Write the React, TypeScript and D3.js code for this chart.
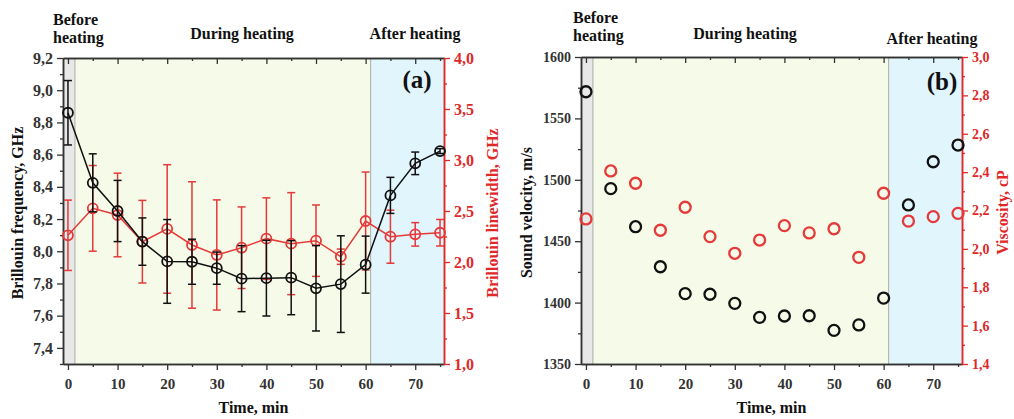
import React, { useEffect, useRef } from "react";
import * as d3 from "d3";

// time points, min
const times = [0, 5, 10, 15, 20, 25, 30, 35, 40, 45, 50, 55, 60, 65, 70, 75];

// panel (a): Brillouin frequency (GHz) and linewidth (GHz) with errors
const frequency = [8.86, 8.425, 8.25, 8.06, 7.937, 7.935, 7.895, 7.83, 7.833, 7.836, 7.77, 7.796, 7.917, 8.347, 8.546, 8.622];
const frequencyErr = [0.2, 0.18, 0.19, 0.147, 0.26, 0.14, 0.1, 0.205, 0.235, 0.23, 0.265, 0.3, 0.177, 0.112, 0.07, 0.015];
const linewidth = [2.262, 2.526, 2.461, 2.199, 2.324, 2.167, 2.069, 2.14, 2.229, 2.18, 2.209, 2.052, 2.402, 2.248, 2.271, 2.287];
const linewidthErr = [0.345, 0.42, 0.41, 0.405, 0.63, 0.62, 0.54, 0.4, 0.4, 0.5, 0.35, 0.075, 0.48, 0.26, 0.115, 0.13];

// panel (b): sound velocity (m/s) and viscosity (cP)
const velocity = [1571.7, 1492.8, 1461.8, 1429.2, 1407.3, 1406.8, 1399.4, 1388, 1389.1, 1389.3, 1377.4, 1381.8, 1403.7, 1479.5, 1514.7, 1528.3];
const viscosity = [2.156, 2.406, 2.342, 2.097, 2.217, 2.064, 1.977, 2.046, 2.121, 2.083, 2.105, 1.956, 2.29, 2.145, 2.168, 2.185];

// heating phases (min)
const phaseEdges = [1.4, 61];
const phaseNames = ["Before heating", "During heating", "After heating"];

const xDomain = [-1, 75.8];
const xTicks = [0, 10, 20, 30, 40, 50, 60, 70];
const xMinor = [5, 15, 25, 35, 45, 55, 65, 75];

const freqTicks = [7.4, 7.6, 7.8, 8.0, 8.2, 8.4, 8.6, 8.8, 9.0, 9.2];
const freqMinor = [7.3, 7.5, 7.7, 7.9, 8.1, 8.3, 8.5, 8.7, 8.9, 9.1];
const lwTicks = [1.0, 1.5, 2.0, 2.5, 3.0, 3.5, 4.0];
const lwMinor = [1.25, 1.75, 2.25, 2.75, 3.25, 3.75];
const velTicks = [1350, 1400, 1450, 1500, 1550, 1600];
const velMinor = [1375, 1425, 1475, 1525, 1575];
const viscTicks = [1.4, 1.6, 1.8, 2.0, 2.2, 2.4, 2.6, 2.8, 3.0];
const viscMinor = [1.5, 1.7, 1.9, 2.1, 2.3, 2.5, 2.7, 2.9];

const FONT = '"Liberation Serif", "Times New Roman", serif';
const RED = "#e53a3a";
const RED_AXIS = "#e02828";
const AXIS = "#333";
const PHASE_FILLS = ["#e8e8e8", "#f5fbe8", "#e1f5fd"];

const comma = (digits) => (d) => d3.format(`.${digits}f`)(d).replace(".", ",");

function Panel(props) {
  const ref = useRef(null);
  const {
    left, right, top, bottom, yDomL, yDomR, ticksL, minorL, ticksR, minorR,
    fmtL, fmtR, black, blackErr, red, redErr, connect, r, yFont,
    titleL, titleR, titleLx, titleRx, letter, letterX, letterY, headers,
  } = props;

  useEffect(() => {
    const g = d3.select(ref.current);
    g.selectAll("*").remove();

    const x = d3.scaleLinear().domain(xDomain).range([left, right]);
    const yL = d3.scaleLinear().domain(yDomL).range([bottom, top]);
    const yR = d3.scaleLinear().domain(yDomR).range([bottom, top]);

    // phase backgrounds
    const edges = [xDomain[0], ...phaseEdges, xDomain[1]];
    g.selectAll(".phase")
      .data(PHASE_FILLS)
      .join("rect")
      .attr("class", "phase")
      .attr("x", (d, i) => x(edges[i]))
      .attr("y", top)
      .attr("width", (d, i) => x(edges[i + 1]) - x(edges[i]))
      .attr("height", bottom - top)
      .attr("fill", (d) => d);
    g.selectAll(".edge")
      .data(phaseEdges)
      .join("line")
      .attr("class", "edge")
      .attr("x1", (d) => x(d)).attr("x2", (d) => x(d))
      .attr("y1", top).attr("y2", bottom)
      .attr("stroke", "#b4b8b4").attr("stroke-width", 1.2);

    const styleAxis = (sel, color, size) => {
      sel.attr("font-family", FONT).attr("font-size", size).attr("font-weight", "bold");
      sel.select(".domain").attr("stroke", color).attr("stroke-width", 1.5);
      sel.selectAll(".tick line").attr("stroke", color).attr("stroke-width", 1.3);
      sel.selectAll(".tick text").attr("fill", color);
    };

    // axes
    const bx = g.append("g").attr("transform", `translate(0,${bottom})`)
      .call(d3.axisBottom(x).tickValues(xTicks).tickSize(6).tickSizeOuter(0).tickPadding(5).tickFormat(d3.format("d")));
    styleAxis(bx, AXIS, 15);
    bx.selectAll(".tick text").attr("dy", "0.95em");
    const bxm = g.append("g").attr("transform", `translate(0,${bottom})`)
      .call(d3.axisBottom(x).tickValues(xMinor).tickSize(3).tickSizeOuter(0).tickFormat(() => ""));
    styleAxis(bxm, AXIS, 15);
    const tx = g.append("g").attr("transform", `translate(0,${top})`)
      .call(d3.axisTop(x).tickValues(xTicks).tickSize(-6).tickSizeOuter(0).tickFormat(() => ""));
    styleAxis(tx, AXIS, 15);
    const txm = g.append("g").attr("transform", `translate(0,${top})`)
      .call(d3.axisTop(x).tickValues(xMinor).tickSize(-3).tickSizeOuter(0).tickFormat(() => ""));
    styleAxis(txm, AXIS, 15);

    const ly = g.append("g").attr("transform", `translate(${left},0)`)
      .call(d3.axisLeft(yL).tickValues(ticksL).tickSize(6).tickSizeOuter(0).tickPadding(4).tickFormat(fmtL));
    styleAxis(ly, AXIS, yFont);
    const lym = g.append("g").attr("transform", `translate(${left},0)`)
      .call(d3.axisLeft(yL).tickValues(minorL).tickSize(3).tickSizeOuter(0).tickFormat(() => ""));
    styleAxis(lym, AXIS, yFont);

    const ry = g.append("g").attr("transform", `translate(${right},0)`)
      .call(d3.axisRight(yR).tickValues(ticksR).tickSize(6).tickSizeOuter(0).tickPadding(4).tickFormat(fmtR));
    styleAxis(ry, RED_AXIS, yFont);
    const rym = g.append("g").attr("transform", `translate(${right},0)`)
      .call(d3.axisRight(yR).tickValues(minorR).tickSize(3).tickSizeOuter(0).tickFormat(() => ""));
    styleAxis(rym, RED_AXIS, yFont);

    const rows = (vals, errs) => times.map((t, i) => ({ t, v: vals[i], e: errs ? errs[i] : 0 }));

    const drawSeries = (data, y, color, withErr) => {
      const s = g.append("g");
      if (withErr) {
        const eb = s.selectAll(".err").data(data).join("g").attr("class", "err")
          .attr("stroke", color).attr("stroke-width", 1.5);
        eb.append("line")
          .attr("x1", (d) => x(d.t)).attr("x2", (d) => x(d.t))
          .attr("y1", (d) => y(d.v - d.e)).attr("y2", (d) => y(d.v + d.e));
        [-1, 1].forEach((sgn) => {
          eb.append("line")
            .attr("x1", (d) => x(d.t) - 4).attr("x2", (d) => x(d.t) + 4)
            .attr("y1", (d) => y(d.v + sgn * d.e)).attr("y2", (d) => y(d.v + sgn * d.e));
        });
      }
      if (connect) {
        const line = d3.line().x((d) => x(d.t)).y((d) => y(d.v));
        s.append("path").attr("d", line(data)).attr("fill", "none")
          .attr("stroke", color).attr("stroke-width", 1.5);
      }
      s.selectAll("circle").data(data).join("circle")
        .attr("cx", (d) => x(d.t)).attr("cy", (d) => y(d.v)).attr("r", r)
        .attr("fill", "none").attr("stroke", color).attr("stroke-width", connect ? 1.8 : 2.3);
    };

    drawSeries(rows(red, redErr), yR, RED, !!redErr);
    drawSeries(rows(black, blackErr), yL, "#111", !!blackErr);
  }, []);

  const midY = (top + bottom) / 2 + 2;
  return (
    <g fontFamily={FONT} fontWeight="bold">
      <g ref={ref} />
      <text x={headers[0][0]} y={headers[0][1]} fontSize={16} fill="#111">
        <tspan x={headers[0][0]}>Before</tspan>
        <tspan x={headers[0][0]} dy={18}>heating</tspan>
      </text>
      <text x={headers[1][0]} y={headers[1][1]} fontSize={16} fill="#111" textAnchor="middle">{phaseNames[1]}</text>
      <text x={headers[2][0]} y={headers[2][1]} fontSize={16} fill="#111" textAnchor="middle">{phaseNames[2]}</text>
      <text x={letterX} y={letterY} fontSize={25} fill="#111" textAnchor="middle">{letter}</text>
      <text x={(left + right) / 2} y={413} fontSize={16} fill="#111" textAnchor="middle">Time, min</text>
      <text transform={`translate(${titleLx},${midY}) rotate(-90)`} fontSize={16} fill="#111" textAnchor="middle">{titleL}</text>
      <text transform={`translate(${titleRx},${midY}) rotate(-90)`} fontSize={16} fill={RED_AXIS} textAnchor="middle">{titleR}</text>
    </g>
  );
}

export default function App() {
  return (
    <svg width={1014} height={419} style={{ display: "block", position: "absolute", left: 0, top: 0, background: "#fff" }}>
      <Panel
        left={63} right={444} top={58} bottom={364}
        yDomL={[7.3, 9.2]} yDomR={[1, 4]}
        ticksL={freqTicks} minorL={freqMinor} ticksR={lwTicks} minorR={lwMinor}
        fmtL={comma(1)} fmtR={comma(1)}
        black={frequency} blackErr={frequencyErr} red={linewidth} redErr={linewidthErr}
        connect={true} r={5} yFont={16}
        titleL="Brillouin frequency, GHz" titleR="Brillouin linewidth, GHz"
        titleLx={23} titleRx={498}
        letter="(a)" letterX={417} letterY={88}
        headers={[[53, 25], [242, 39], [415, 39]]}
      />
      <Panel
        left={581} right={962} top={57} bottom={364}
        yDomL={[1350, 1600]} yDomR={[1.4, 3.0]}
        ticksL={velTicks} minorL={velMinor} ticksR={viscTicks} minorR={viscMinor}
        fmtL={d3.format("d")} fmtR={comma(1)}
        black={velocity} blackErr={null} red={viscosity} redErr={null}
        connect={false} r={5.5} yFont={14}
        titleL="Sound velocity, m/s" titleR="Viscosity, cP"
        titleLx={532} titleRx={1008}
        letter="(b)" letterX={942} letterY={90}
        headers={[[573, 23], [745, 39], [932, 44]]}
      />
    </svg>
  );
}
